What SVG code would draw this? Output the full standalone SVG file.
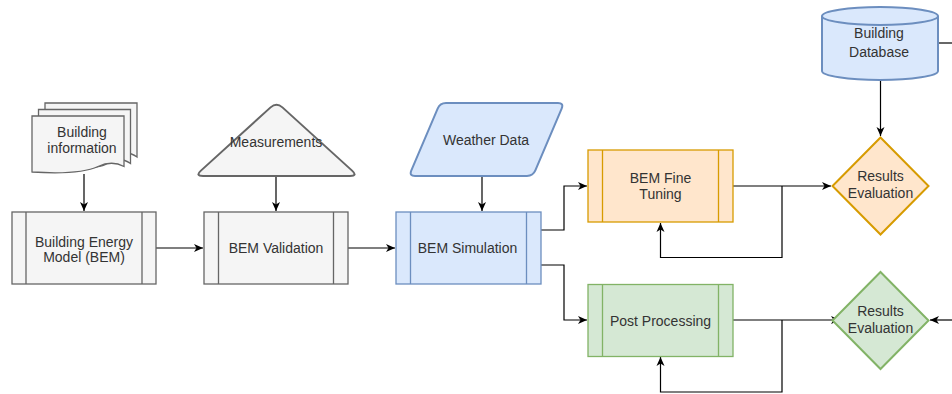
<svg xmlns="http://www.w3.org/2000/svg" width="952" height="394" viewBox="0 0 952 394">
<style>
text{font-family:"Liberation Sans",Arial,sans-serif;font-size:14px;fill:#333;text-anchor:middle}
.c{fill:none;stroke:#000;stroke-width:1.2}
.gray{fill:#f5f5f5;stroke:#666;stroke-width:1.3}
.blue{fill:#dae8fc;stroke:#6c8ebf;stroke-width:1.3}
.orange{fill:#ffe6cc;stroke:#d79b00;stroke-width:1.3}
.green{fill:#d5e8d4;stroke:#82b366;stroke-width:1.3}
.thick{stroke-width:2}
</style>
<defs>
<marker id="a" markerUnits="userSpaceOnUse" markerWidth="11" markerHeight="10" refX="10" refY="5" orient="auto">
<path d="M1,1 L10,5 L1,9 L3.5,5 Z" fill="#000"/>
</marker>
</defs>
<rect width="952" height="394" fill="#fff"/>
<g id="connectors">
<path class="c" d="M84,174 V211" marker-end="url(#a)"/>
<path class="c" d="M276,176 V211" marker-end="url(#a)"/>
<path class="c" d="M482,176 V211" marker-end="url(#a)"/>
<path class="c" d="M156,248 H203" marker-end="url(#a)"/>
<path class="c" d="M348,248 H395" marker-end="url(#a)"/>
<path class="c" d="M541,230 H564 V186 H587" marker-end="url(#a)"/>
<path class="c" d="M541,265 H564 V320 H587" marker-end="url(#a)"/>
<path class="c" d="M733,186 H831" marker-end="url(#a)"/>
<path class="c" d="M782,186 V257.5 H660.5 V223" marker-end="url(#a)"/>
<path class="c" d="M733,320 H840" marker-end="url(#a)"/>
<path class="c" d="M782,320 V392 H660.5 V357" marker-end="url(#a)"/>
<path class="c" d="M880.5,80 V136" marker-end="url(#a)"/>
<path class="c" d="M938,43 H952"/>
<path class="c" d="M952,320 H930" marker-end="url(#a)"/>
</g>
<g id="building-information">
<path class="gray" d="M45,103 H137 V157 Q126,149 114,157 Q103,165 45,160 Z"/>
<path class="gray" d="M38.5,109.5 H130.5 V163.5 Q119,155.5 107,163.5 Q96,171.5 38.5,166.5 Z"/>
<path class="gray" d="M32,116 H124 V166.5 Q112,160 98,166.5 Q80,175 32,172 Z"/>
<text x="82" y="136.5">Building</text>
<text x="82" y="152.5">information</text>
</g>
<g id="bem">
<rect class="gray" x="12" y="212" width="144" height="72"/>
<path class="gray" d="M26,212 V284 M142,212 V284"/>
<text x="84" y="246.5">Building Energy</text>
<text x="84" y="262">Model (BEM)</text>
</g>
<g id="measurements">
<path class="gray thick" d="M203,176 H350 Q358,176 352.07,170.62 L282.43,107.38 Q276.5,102 270.57,107.38 L200.93,170.62 Q195,176 203,176 Z"/>
<text x="276" y="146.5">Measurements</text>
</g>
<g id="bem-validation">
<rect class="gray" x="204" y="212" width="144" height="72"/>
<path class="gray" d="M218.5,212 V284 M333.5,212 V284"/>
<text x="276" y="253">BEM Validation</text>
</g>
<g id="weather-data">
<path class="blue thick" d="M446,103 H558 Q564,103 561.65,108.52 L535.35,170.48 Q533,176 527,176 H415 Q409,176 411.35,170.48 L437.65,108.52 Q440,103 446,103 Z"/>
<text x="486" y="145">Weather Data</text>
</g>
<g id="bem-simulation">
<rect class="blue" x="396" y="212" width="145" height="72"/>
<path class="blue" d="M410.5,212 V284 M526.5,212 V284"/>
<text x="467.5" y="253">BEM Simulation</text>
</g>
<g id="bem-fine-tuning">
<rect class="orange" x="588" y="150" width="145" height="72"/>
<path class="orange" d="M602.5,150 V222 M718.5,150 V222"/>
<text x="660.5" y="182.5">BEM Fine</text>
<text x="660.5" y="199">Tuning</text>
</g>
<g id="post-processing">
<rect class="green" x="588" y="284.5" width="145" height="72"/>
<path class="green" d="M602.5,284.5 V356.5 M718.5,284.5 V356.5"/>
<text x="660.5" y="326">Post Processing</text>
</g>
<g id="building-database">
<path class="blue thick" d="M822,16 A58,9 0 0 1 938,16 V71 A58,9 0 0 1 822,71 Z"/>
<path class="blue thick" fill="none" d="M822,16 A58,9 0 0 0 938,16"/>
<text x="879" y="38">Building</text>
<text x="879" y="56.5">Database</text>
</g>
<g id="results-evaluation-1">
<path class="orange thick" d="M880.5,137.5 L928.5,186 L880.5,234.5 L832.5,186 Z"/>
<text x="880.5" y="181">Results</text>
<text x="880.5" y="197.5">Evaluation</text>
</g>
<g id="results-evaluation-2">
<path class="green thick" d="M880.5,272 L928.5,320.5 L880.5,369 L832.5,320.5 Z"/>
<text x="880.5" y="316">Results</text>
<text x="880.5" y="332.5">Evaluation</text>
</g>
</svg>
